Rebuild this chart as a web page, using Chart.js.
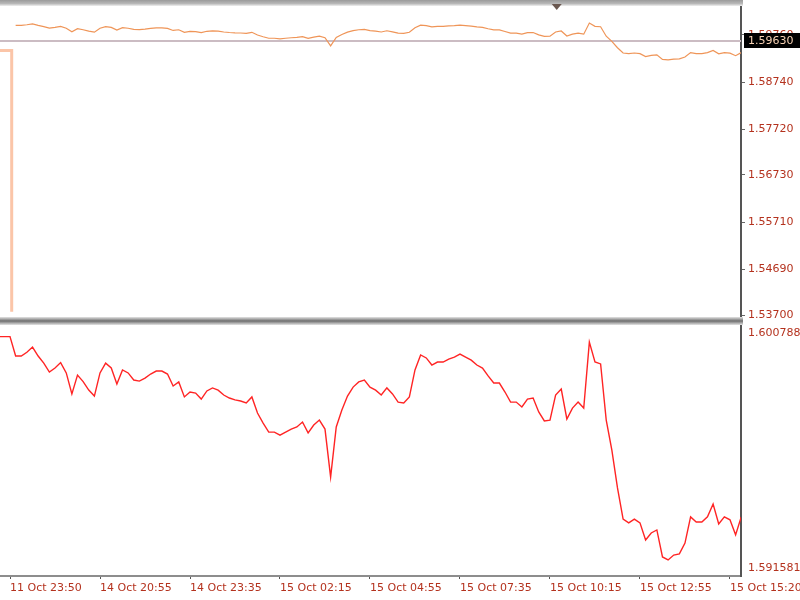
<!DOCTYPE html>
<html>
<head>
<meta charset="utf-8">
<script src="https://cdn.jsdelivr.net/npm/chart.js@4.4.0/dist/chart.umd.min.js"></script>
<style>
    html, body { margin: 0; padding: 0; background: #ffffff; }
    #wrap { position: relative; width: 800px; height: 600px; overflow: hidden; }
    .pane { position: absolute; left: 0; width: 800px; }
    #topPane { top: 0; height: 325px; }
    #botPane { top: 325px; height: 275px; }
</style>
</head>
<body>
<div id="wrap">
    <div class="pane" id="topPane"><canvas id="priceChart"></canvas></div>
    <div class="pane" id="botPane"><canvas id="lineChart"></canvas></div>
</div>
<script>
// time axis: one step = 10 minutes, step 0 = first label
const timeLabels = ['11 Oct 23:50', '14 Oct 20:55', '14 Oct 23:35', '15 Oct 02:15', '15 Oct 04:55',
                    '15 Oct 07:35', '15 Oct 10:15', '15 Oct 12:55', '15 Oct 15:20'];
const labelSteps = [0, 16, 32, 48, 64, 80, 96, 112, 128];

// closes, from step -2 to step 130
const firstStep = -2;
const closes = [
    1.60036, 1.60036, 1.60036, 1.59965, 1.59965, 1.59979, 1.59998, 1.59965, 1.59939, 1.59906,
    1.59921, 1.59941, 1.59903, 1.59826, 1.59895, 1.59871, 1.59840, 1.59818, 1.59903, 1.59939,
    1.59921, 1.59862, 1.59914, 1.59903, 1.59877, 1.59873, 1.59884, 1.59899, 1.59910, 1.59910,
    1.59899, 1.59855, 1.59870, 1.59815, 1.59833, 1.59829, 1.59807, 1.59837, 1.59848, 1.59840,
    1.59822, 1.59811, 1.59804, 1.59800, 1.59793, 1.59815, 1.59756, 1.59719, 1.59686, 1.59686,
    1.59675, 1.59686, 1.59697, 1.59705, 1.59723, 1.59683, 1.59712, 1.59730, 1.59697, 1.59521,
    1.59705, 1.59767, 1.59818, 1.59851, 1.59870, 1.59877, 1.59851, 1.59840, 1.59822, 1.59848,
    1.59826, 1.59796, 1.59793, 1.59815, 1.59914, 1.59969, 1.59958, 1.59932, 1.59943, 1.59943,
    1.59954, 1.59961, 1.59972, 1.59961, 1.59950, 1.59932, 1.59921, 1.59892, 1.59866, 1.59866,
    1.59833, 1.59796, 1.59796, 1.59778, 1.59807, 1.59811, 1.59760, 1.59727, 1.59730, 1.59822,
    1.59844, 1.59734, 1.59774, 1.59796, 1.59774, 1.60016, 1.59943, 1.59936, 1.59730, 1.59620,
    1.59481, 1.59367, 1.59353, 1.59367, 1.59353, 1.59290, 1.59316, 1.59327, 1.59228, 1.59217,
    1.59235, 1.59239, 1.59279, 1.59375, 1.59356, 1.59356, 1.59375, 1.59422, 1.59349, 1.59375,
    1.59364, 1.59309, 1.59375
];

// bad tick before the weekend gap (top pane only)
const preGapSteps = [-2, 0.3, 0.3];
const preGapCloses = [1.5942, 1.5942, 1.5377];
const topStartStep = 1;

const topTicks = [1.59760, 1.58740, 1.57720, 1.56730, 1.55710, 1.54690, 1.53700];
const topRange = [1.53657, 1.60384];
const lowerRange = [1.591581, 1.600788];
const bidPrice = 1.59630;
const markerStep = 97.2;

const labelColor = '#b4321e';
Chart.defaults.font.family = 'DejaVu Sans';
Chart.defaults.font.size = 11;

const points = closes.map((v, k) => ({ x: firstStep + k, y: v }));
const topPoints = points.filter(p => p.x >= topStartStep);
const gapPoints = preGapSteps.map((s, k) => ({ x: s, y: preGapCloses[k] }));

const xRange = { type: 'linear', min: -1.78, max: 129.96 };

const topDecor = {
    id: 'topDecor',
    beforeDatasetsDraw(chart) {
        const c = chart.ctx;
        const y = chart.scales.y.getPixelForValue(bidPrice);
        c.save();
        c.fillStyle = '#cbbcc3';
        c.fillRect(0, Math.round(y) - 1, chart.chartArea.right, 2);
        c.restore();
    },
    afterDraw(chart) {
        const c = chart.ctx;
        const right = chart.chartArea.right + 2;
        c.save();
        // top frame
        const g = c.createLinearGradient(0, 0, 0, 6);
        g.addColorStop(0, '#9a9a9a');
        g.addColorStop(0.6, '#b8b8b8');
        g.addColorStop(1, '#f0f0f0');
        c.fillStyle = g;
        c.fillRect(0, 0, right, 6);
        // marker
        const mx = chart.scales.x.getPixelForValue(markerStep);
        c.fillStyle = '#6a5850';
        c.beginPath();
        c.moveTo(mx - 5, 4);
        c.lineTo(mx + 5, 4);
        c.lineTo(mx, 10);
        c.closePath();
        c.fill();
        // pane divider
        const d = c.createLinearGradient(0, 317, 0, 325);
        d.addColorStop(0, '#e4e4e4');
        d.addColorStop(0.5, '#6e6e6e');
        d.addColorStop(1, '#e4e4e4');
        c.fillStyle = d;
        c.fillRect(0, 317, right, 8);
        // bid label
        const y = Math.round(chart.scales.y.getPixelForValue(bidPrice));
        c.fillStyle = '#000000';
        c.fillRect(744, y - 8, 56, 15);
        c.fillStyle = '#f7d2b4';
        c.font = '11px "DejaVu Sans"';
        c.textBaseline = 'middle';
        c.fillText(bidPrice.toFixed(5), 748, y);
        c.restore();
    }
};

new Chart(document.getElementById('priceChart').getContext('2d'), {
    type: 'line',
    data: {
        datasets: [
            {
                data: gapPoints,
                borderColor: '#fbc5a8',
                borderWidth: 3,
                pointRadius: 0,
                tension: 0
            },
            {
                data: topPoints,
                borderColor: '#ef9558',
                borderWidth: 1.2,
                pointRadius: 0,
                tension: 0
            }
        ]
    },
    options: {
        responsive: true,
        maintainAspectRatio: false,
        animation: false,
        layout: { padding: { top: 6, bottom: 8, left: 0, right: 0 } },
        plugins: { legend: { display: false }, tooltip: { enabled: false } },
        scales: {
            x: { ...xRange, display: false },
            y: {
                position: 'right',
                min: topRange[0],
                max: topRange[1],
                afterBuildTicks: (scale) => { scale.ticks = topTicks.map(v => ({ value: v })); },
                afterFit: (scale) => { scale.width = 59; scale.paddingTop = 0; scale.paddingBottom = 0; },
                grid: { drawOnChartArea: false, tickLength: 4, color: '#666666' },
                border: { color: '#555555', width: 2 },
                ticks: {
                    color: labelColor,
                    padding: 3,
                    callback: (value) => value.toFixed(5)
                }
            }
        }
    },
    plugins: [topDecor]
});

new Chart(document.getElementById('lineChart').getContext('2d'), {
    type: 'line',
    data: {
        datasets: [{
            data: points,
            borderColor: '#ff2424',
            borderWidth: 1.4,
            pointRadius: 0,
            tension: 0
        }]
    },
    options: {
        responsive: true,
        maintainAspectRatio: false,
        animation: false,
        layout: { padding: 0 },
        plugins: { legend: { display: false }, tooltip: { enabled: false } },
        scales: {
            x: {
                ...xRange,
                afterBuildTicks: (scale) => { scale.ticks = labelSteps.map(v => ({ value: v })); },
                afterFit: (scale) => { scale.height = 24; scale.paddingLeft = 0; scale.paddingRight = 0; },
                grid: { drawOnChartArea: false, tickLength: 3, color: '#555555' },
                border: { color: '#8d8d8d', width: 2 },
                ticks: {
                    color: labelColor,
                    align: 'start',
                    maxRotation: 0,
                    autoSkip: false,
                    padding: 3,
                    callback: (value, index) => timeLabels[index]
                }
            },
            y: {
                position: 'right',
                min: lowerRange[0],
                max: lowerRange[1],
                // labels sit just inside the pane edges
                afterBuildTicks: (scale) => {
                    const inset = (scale.max - scale.min) * 8 / 251;
                    scale.ticks = [{ value: scale.min + inset }, { value: scale.max - inset }];
                },
                afterFit: (scale) => { scale.width = 59; scale.paddingTop = 0; scale.paddingBottom = 0; },
                grid: { drawOnChartArea: false, drawTicks: false },
                border: { color: '#555555', width: 2 },
                ticks: {
                    color: labelColor,
                    padding: 7,
                    callback: (value, index) => lowerRange[index].toFixed(6)
                }
            }
        }
    }
});
</script>
</body>
</html>
